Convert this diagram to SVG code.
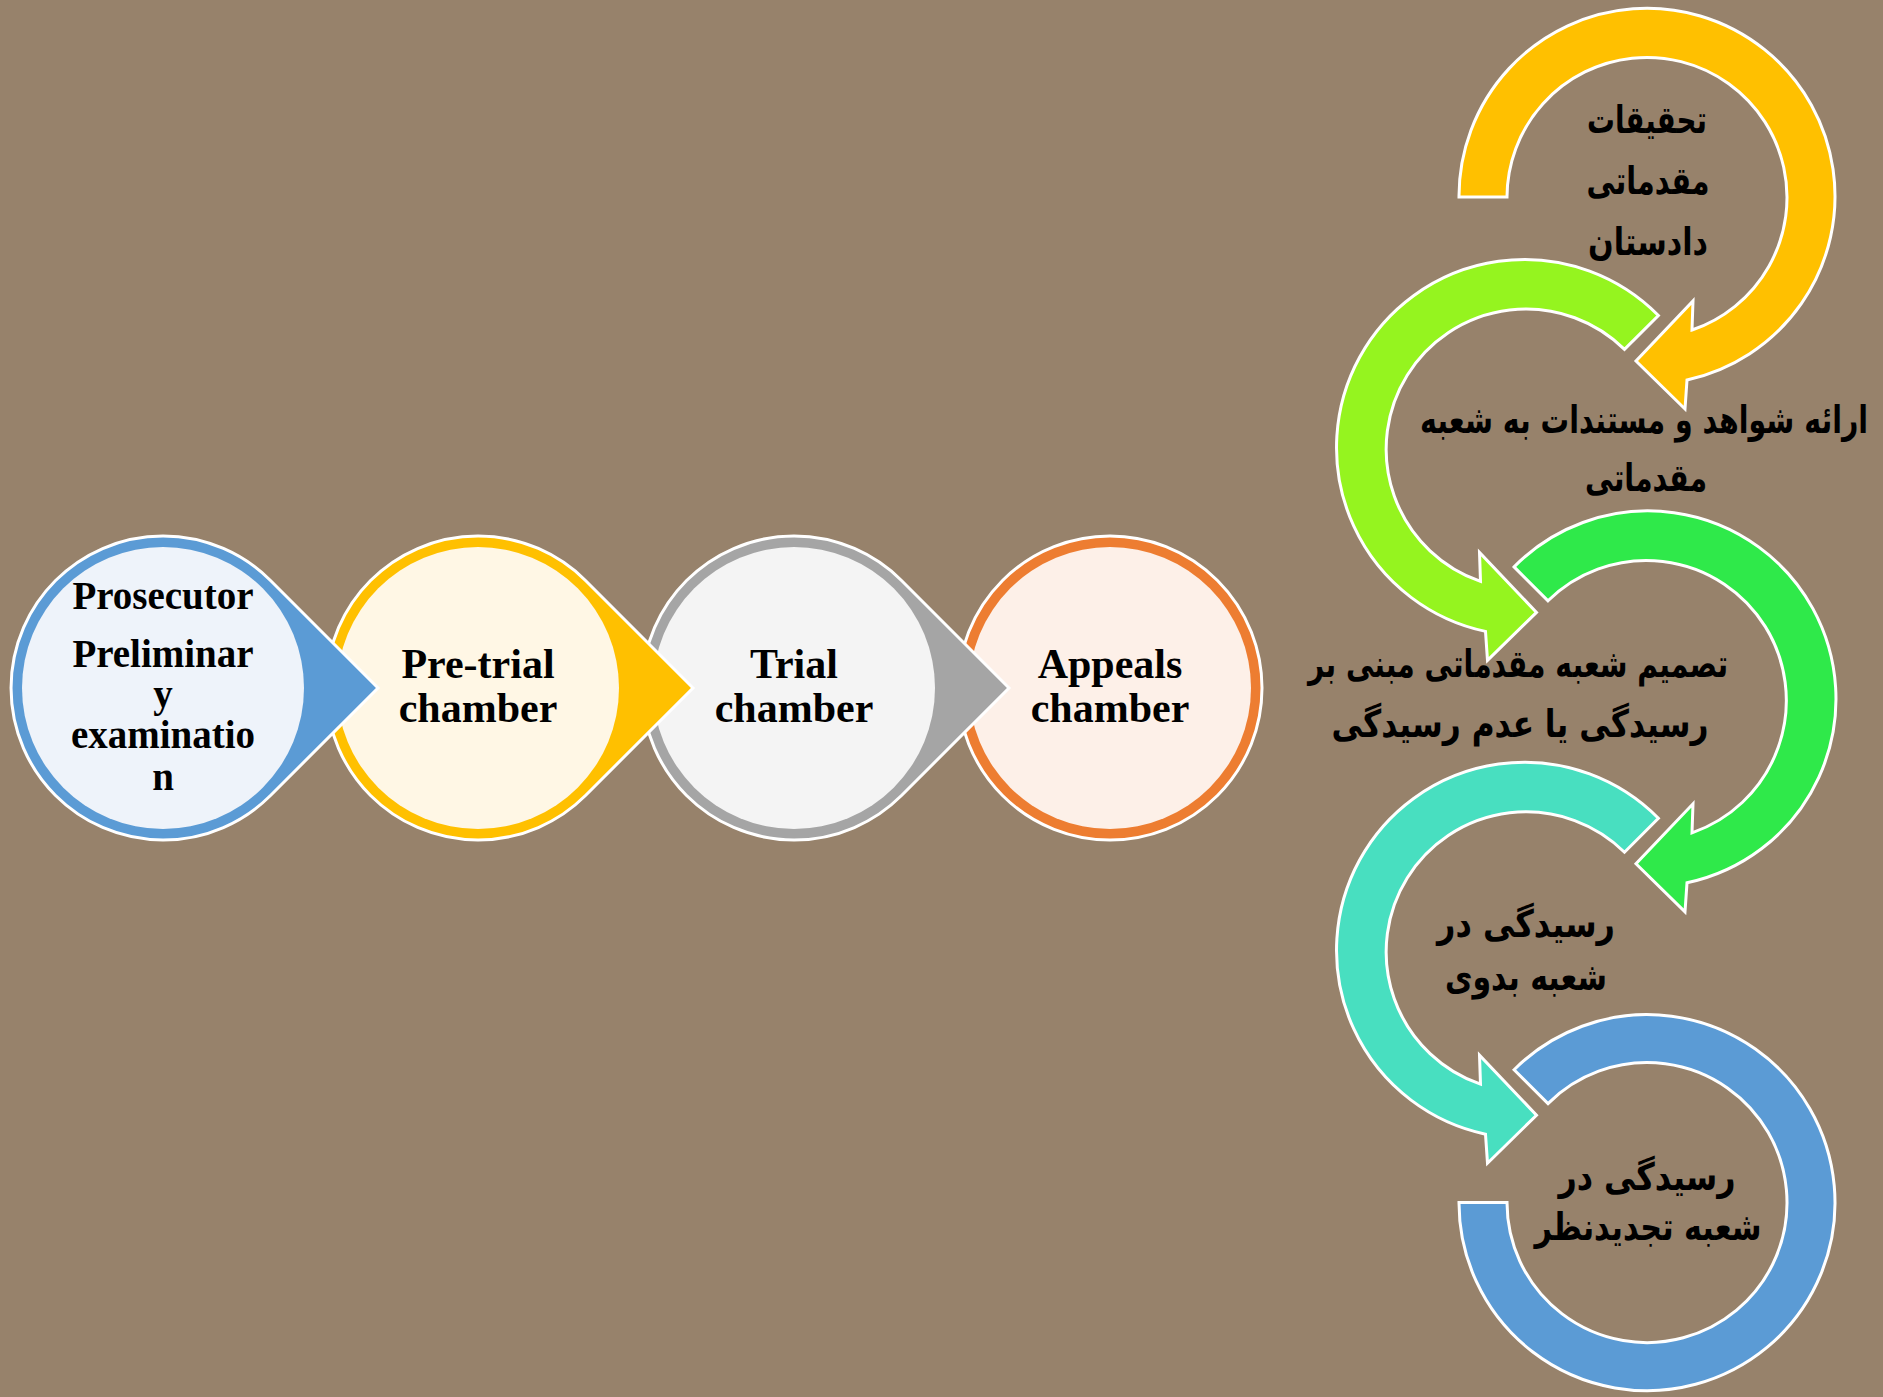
<svg xmlns="http://www.w3.org/2000/svg" width="1883" height="1397" viewBox="0 0 1883 1397">
<style>
.bg{fill:#97826B}
.shape{stroke:#FFFFFF;stroke-width:3;stroke-linejoin:miter}
.en{font-family:"Liberation Serif","Times New Roman",serif;font-weight:bold;font-size:42px;text-anchor:middle;fill:#000}
.en.sm{font-size:39px}
.fa{font-family:"DejaVu Sans","Noto Sans",sans-serif;font-weight:bold;font-size:38px;text-anchor:middle;fill:#000;direction:rtl}
</style>
<defs>
<path id="drop" d="M215 0 L107.5 -107.5 A152 152 0 1 0 107.5 107.5 Z"/>
<path id="ringA" d="M-132.9 -132.9 A188 188 0 1 1 40 183 L38 212 L-11 164 L46 104 L45 133 A140 140 0 1 0 -99 -99 Z"/>
</defs>
<rect class="bg" x="0" y="0" width="1883" height="1397"/>

<g id="node-appeals">
<circle class="shape" cx="1110" cy="688" r="152" fill="#ED7D31"/>
<circle cx="1110" cy="688" r="141" fill="#FDF0E8"/>
<text class="en" x="1110" y="678">Appeals</text>
<text class="en" x="1110" y="722">chamber</text>
</g>
<g id="node-trial">
<use href="#drop" class="shape" fill="#A5A5A5" transform="translate(794,688)"/>
<circle cx="794" cy="688" r="141" fill="#F4F4F4"/>
<text class="en" x="794" y="678">Trial</text>
<text class="en" x="794" y="722">chamber</text>
</g>
<g id="node-pretrial">
<use href="#drop" class="shape" fill="#FFC000" transform="translate(478,688)"/>
<circle cx="478" cy="688" r="141" fill="#FFF7E5"/>
<text class="en" x="478" y="678">Pre-trial</text>
<text class="en" x="478" y="722">chamber</text>
</g>
<g id="node-prosecutor">
<use href="#drop" class="shape" fill="#5B9BD5" transform="translate(163,688)"/>
<circle cx="163" cy="688" r="141" fill="#EEF3FA"/>
<text class="en sm" x="163" y="609">Prosecutor</text>
<text class="en sm" x="163" y="667">Preliminar</text>
<text class="en sm" x="163" y="707">y</text>
<text class="en sm" x="163" y="748">examinatio</text>
<text class="en sm" x="163" y="790">n</text>
</g>

<g id="step1">
<path class="shape" fill="#FFC000" transform="translate(1647,197)" d="M-188 0 A188 188 0 1 1 40 183 L38 212 L-11 164 L46 104 L45 133 A140 140 0 1 0 -140 0 Z"/>
<text class="fa" x="1647" y="133" textLength="120" lengthAdjust="spacingAndGlyphs">تحقیقات</text>
<text class="fa" x="1648" y="194" textLength="123" lengthAdjust="spacingAndGlyphs">مقدماتی</text>
<text class="fa" x="1648" y="255" textLength="120" lengthAdjust="spacingAndGlyphs">دادستان</text>
</g>
<g id="step2">
<use href="#ringA" class="shape" fill="#95F41F" transform="translate(1525.5,448.4) scale(-1,1)"/>
<text class="fa" x="1644" y="433" textLength="448" lengthAdjust="spacingAndGlyphs">ارائه شواهد و مستندات به شعبه</text>
<text class="fa" x="1646" y="491" textLength="122" lengthAdjust="spacingAndGlyphs">مقدماتی</text>
</g>
<g id="step3">
<use href="#ringA" class="shape" fill="#2FE94A" transform="translate(1647,699.8)"/>
<text class="fa" x="1518" y="677" textLength="420" lengthAdjust="spacingAndGlyphs">تصمیم شعبه مقدماتی مبنی بر</text>
<text class="fa" x="1520" y="737" textLength="377" lengthAdjust="spacingAndGlyphs">رسیدگی یا عدم رسیدگی</text>
</g>
<g id="step4">
<use href="#ringA" class="shape" fill="#48DFC0" transform="translate(1525.5,951.2) scale(-1,1)"/>
<text class="fa" x="1526" y="937" textLength="178" lengthAdjust="spacingAndGlyphs">رسیدگی در</text>
<text class="fa" x="1526" y="990" textLength="162" lengthAdjust="spacingAndGlyphs">شعبه بدوی</text>
</g>
<g id="step5">
<path class="shape" fill="#5B9BD5" transform="translate(1647,1202.6)" d="M-132.9 -132.9 A188 188 0 1 1 -188 0 L-140 0 A140 140 0 1 0 -99 -99 Z"/>
<text class="fa" x="1647" y="1190" textLength="177" lengthAdjust="spacingAndGlyphs">رسیدگی در</text>
<text class="fa" x="1648" y="1240" textLength="227" lengthAdjust="spacingAndGlyphs">شعبه تجدیدنظر</text>
</g>
<g id="connectors"></g>
</svg>
